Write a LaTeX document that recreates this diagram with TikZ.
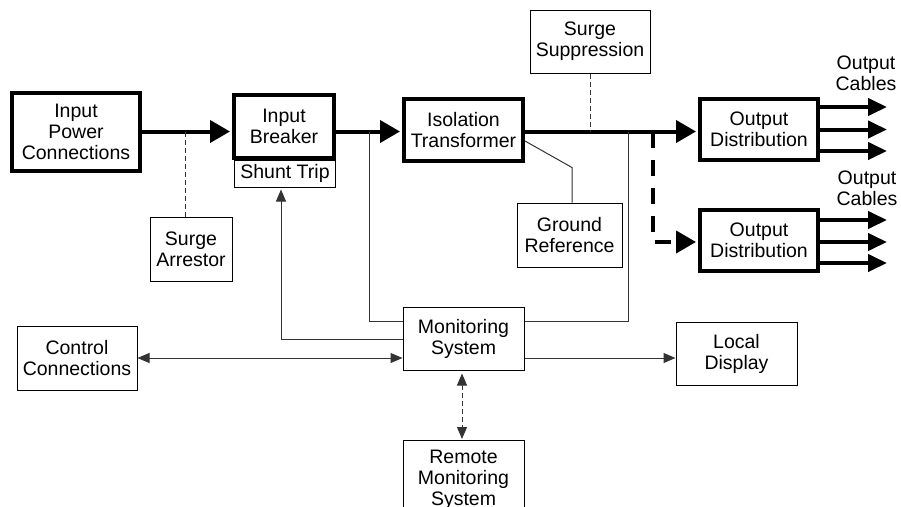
\documentclass[tikz,border=0pt]{standalone}
\usepackage{fontspec}
\setmainfont{Liberation Sans}
\usetikzlibrary{arrows.meta,calc}
\begin{document}
\begin{tikzpicture}[x=1pt,y=-1pt,
  every node/.style={font=\fontsize{19.5}{21}\selectfont, align=center, inner sep=0pt},
  thickbox/.style={draw, line width=4pt, fill=white},
  thinbox/.style={draw, line width=1pt, fill=white},
  mainline/.style={line width=4pt, -{Triangle[length=20pt,width=22pt]}},
  cable/.style={line width=4pt, -{Triangle[length=19pt,width=17pt]}},
  thinline/.style={line width=1pt, draw=black!80},
  tarrow/.style={-{Triangle[length=12pt,width=10pt]}},
  tdouble/.style={{Triangle[length=12pt,width=10pt]}-{Triangle[length=12pt,width=10pt]}},
  smalldash/.style={dash pattern=on 5pt off 3pt},
  bigdash/.style={dash pattern=on 16pt off 12pt}
]
\clip (0,0) rectangle (901,506);
\fill[white] (0,0) rectangle (901,506);

% junctions on the main bus
\coordinate (j1) at (369,131.5);
\coordinate (j2) at (628,131.5);
\coordinate (j3) at (653,131.5);

% nodes
\node[thickbox, minimum width=128pt, minimum height=78pt] (ipc) at (76,131.5) {Input\\Power\\Connections};
\node[thinbox, minimum width=101pt, minimum height=27pt] (st) at (285,173.5) {Shunt Trip};
\node[thickbox, minimum width=100pt, minimum height=63pt] (brk) at (284,126.5) {Input\\Breaker};
\node[thinbox, minimum width=82pt, minimum height=64pt] (sa) at (191,249) {Surge\\Arrestor};
\node[thickbox, minimum width=119pt, minimum height=62pt] (iso) at (463.5,130) {Isolation\\Transformer};
\node[thinbox, minimum width=120pt, minimum height=63pt] (ss) at (590,41.5) {Surge\\Suppression};
\node[thinbox, minimum width=105pt, minimum height=64pt] (gr) at (569.5,235) {Ground\\Reference};
\node[thickbox, minimum width=118pt, minimum height=61pt] (od1) at (759,129.5) {Output\\Distribution};
\node[thickbox, minimum width=118pt, minimum height=61pt] (od2) at (759,240.5) {Output\\Distribution};
\node (oc1) at (866,73) {Output\\Cables};
\node (oc2) at (867,188) {Output\\Cables};
\node[thinbox, minimum width=120pt, minimum height=64pt] (ctl) at (77,358) {Control\\Connections};
\node[thinbox, minimum width=121pt, minimum height=63pt] (mon) at (463.5,338.5) {Monitoring\\System};
\node[thinbox, minimum width=121pt, minimum height=63pt] (ld) at (736.5,353.5) {Local\\Display};
\node[thinbox, minimum width=121pt, minimum height=78pt, anchor=north] (rm) at (463.5,440) {Remote\\Monitoring\\System};

% main power path
\draw[mainline, shorten >=2pt] (ipc.east) -- (ipc.east -| brk.west);
\draw[mainline, shorten >=2pt] (brk.east |- ipc.east) -- (iso.west |- ipc.east);
\draw[mainline, shorten >=2pt] (iso.east |- ipc.east) -- (od1.west |- ipc.east);
\draw[mainline, bigdash, shorten >=2pt] (j3) |- ([yshift=-1.5pt]od2.west);

% output cables
\draw[cable] ([yshift=22.5pt]od1.east) -- ++(67,0);
\draw[cable] (od1.east) -- ++(67,0);
\draw[cable] ([yshift=-21.5pt]od1.east) -- ++(67,0);
\draw[cable] ([yshift=20.5pt]od2.east) -- ++(67,0);
\draw[cable] ([yshift=-1.5pt]od2.east) -- ++(67,0);
\draw[cable] ([yshift=-22.5pt]od2.east) -- ++(67,0);

% surge devices and ground reference
\draw[thinline, smalldash] ([xshift=-6pt]sa.north) -- ([xshift=-6pt]sa.north |- ipc.east);
\draw[thinline, smalldash] (ss.south) -- (ss.south |- ipc.east);
\draw[thinline] ([yshift=-11pt]iso.east) -- ([xshift=2.5pt,yshift=35pt]gr.north) -- ([xshift=2.5pt]gr.north);

% monitoring connections
\draw[thinline] (j1) |- ([yshift=17.5pt]mon.west);
\draw[thinline] (j2) |- ([yshift=17.5pt]mon.east);
\draw[thinline, tarrow, shorten >=2pt] ([yshift=-0.5pt]mon.west) -| ([xshift=-4pt]st.south);
\draw[thinline, tdouble] (ctl.east) -- (ctl.east -| mon.west);
\draw[thinline, tarrow] (mon.east |- ctl.east) -- (ld.west |- ctl.east);
\draw[thinline, smalldash, tdouble, shorten >=1pt, shorten <=3pt] ([xshift=-1.5pt]mon.south) -- ([xshift=-1.5pt]rm.north);
\end{tikzpicture}
\end{document}
